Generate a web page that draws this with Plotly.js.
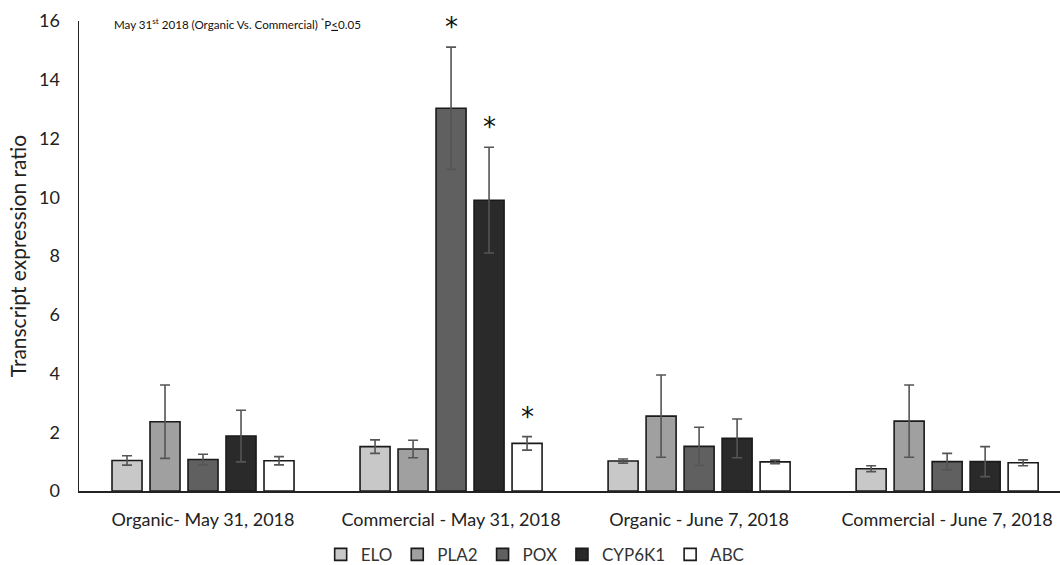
<!DOCTYPE html>
<html>
<head>
<meta charset="utf-8">
<script src="https://cdn.plot.ly/plotly-3.0.1.min.js"></script>
<style>html,body{margin:0;padding:0;background:#fff;}#chart{width:1060px;height:565px;}</style>
</head>
<body>
<div id="chart"></div>
<script>
const categories = ["Organic- May 31, 2018", "Commercial - May 31, 2018", "Organic - June 7, 2018", "Commercial - June 7, 2018"];
const genes = ["ELO", "PLA2", "POX", "CYP6K1", "ABC"];
const ELO = [1.04, 1.51, 1.02, 0.76];
const ELO_err = [0.16, 0.23, 0.07, 0.1];
const PLA2 = [2.36, 1.43, 2.55, 2.38];
const PLA2_err = [1.25, 0.3, 1.4, 1.23];
const POX = [1.07, 13.03, 1.52, 1.0];
const POX_err = [0.18, 2.08, 0.65, 0.28];
const CYP6K1 = [1.87, 9.9, 1.79, 1.0];
const CYP6K1_err = [0.88, 1.8, 0.66, 0.51];
const ABC = [1.03, 1.62, 0.99, 0.96];
const ABC_err = [0.14, 0.23, 0.06, 0.1];
const colors = ["#c8c8c8", "#a0a0a0", "#606060", "#2a2a2a", "#ffffff"];
// significance markers: [category index, gene index]
const significant = [[1, 2], [1, 3], [1, 4]];
const noteText = "May 31<sup>st</sup> 2018 (Organic Vs. Commercial) <sup>*</sup>P<u>&lt;</u>0.05";

const values = [ELO, PLA2, POX, CYP6K1, ABC];
const errs = [ELO_err, PLA2_err, POX_err, CYP6K1_err, ABC_err];

const traces = genes.map((g, i) => ({
  type: "bar",
  name: g,
  x: categories,
  y: values[i],
  marker: {color: colors[i], line: {color: "#1a1a1a", width: 1.6}},
  error_y: {type: "data", array: errs[i], visible: true, color: "#555555", thickness: 1.6, width: 5}
}));

const barStep = 38;
const annotations = significant.map(([c, g]) => ({
  x: categories[c], y: values[g][c] + errs[g][c],
  xref: "x", yref: "y",
  xshift: (g - 2) * barStep,
  yshift: 3,
  yanchor: "bottom",
  text: "*", showarrow: false,
  font: {size: 26, color: "#111", family: "'DejaVu Sans', sans-serif"}
}));
annotations.push({
  xref: "paper", yref: "paper", x: 0.034, y: 0.995, xanchor: "left", yanchor: "middle",
  text: noteText, showarrow: false,
  font: {size: 11.6, color: "#111", family: "Lato, 'Liberation Sans', sans-serif"}
});

const layout = {
  width: 1060, height: 565,
  margin: {l: 79, r: 0, t: 21, b: 74, autoexpand: false},
  paper_bgcolor: "#fff", plot_bgcolor: "#fff",
  font: {family: "Lato, 'Liberation Sans', sans-serif", color: "#222"},
  barmode: "group",
  bargap: 0.234,
  bargroupgap: 0.21,
  showlegend: true,
  legend: {orientation: "h", x: 0.465, xanchor: "center", yref: "container", y: 0.018, yanchor: "middle",
           font: {size: 17, color: "#333"}, itemwidth: 30, tracegroupgap: 0},
  xaxis: {
    type: "category", range: [-0.5, 3.455], automargin: false,
    showline: true, linecolor: "#222", linewidth: 1.5,
    ticks: "", tickfont: {size: 18, color: "#222"}, showgrid: false, zeroline: false,
    ticklabelstandoff: 12
  },
  yaxis: {
    range: [0, 16], dtick: 2, showline: true, linecolor: "#222", linewidth: 1.5, automargin: false,
    ticks: "", ticklen: 0, tickfont: {size: 18, color: "#222"}, showgrid: false, zeroline: false,
    ticklabelstandoff: 14,
    title: {text: "Transcript expression ratio", font: {size: 21, color: "#222"}, standoff: 6}
  },
  annotations: annotations
};

Plotly.newPlot("chart", traces, layout, {displayModeBar: false, staticPlot: true});
</script>
</body>
</html>
